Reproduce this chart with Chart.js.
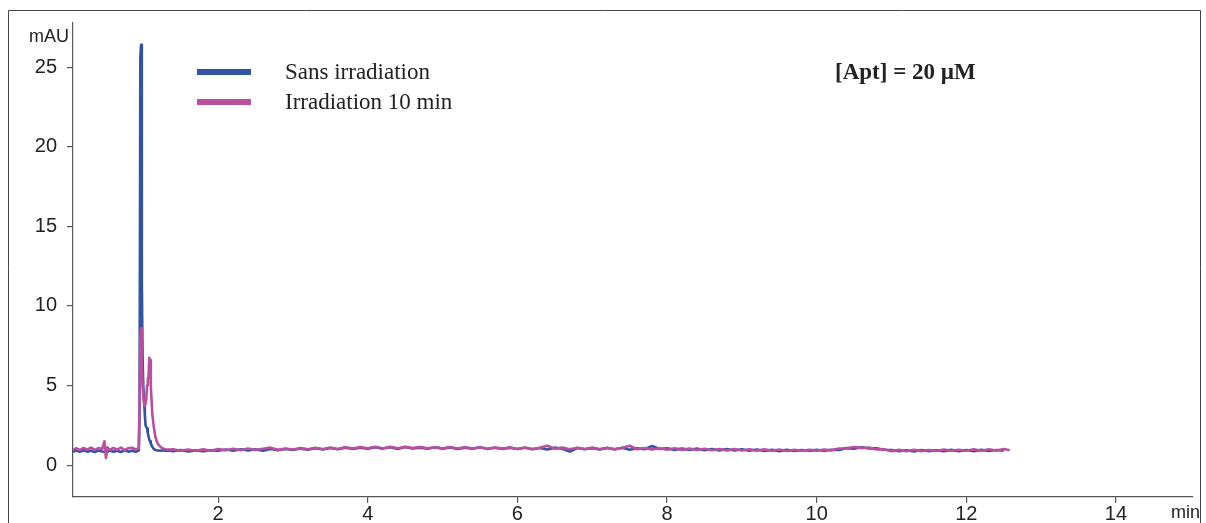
<!DOCTYPE html>
<html>
<head>
<meta charset="utf-8">
<script src="https://cdn.jsdelivr.net/npm/chart.js@4.4.0/dist/chart.umd.min.js"></script>
<style>
  html, body { margin: 0; padding: 0; background: #fff; }
</style>
</head>
<body>
<canvas id="chromato" width="1206" height="523"></canvas>
<script>
// retention times (min) - left baseline, peak zone, rest of the run
var timesLeft = [0.06, 0.1, 0.15, 0.2, 0.25, 0.3, 0.35, 0.4, 0.45, 0.48, 0.5, 0.52, 0.55, 0.6, 0.65, 0.7, 0.75, 0.8, 0.85, 0.9, 0.93];
var timesPeak = [0.94, 0.95, 0.96, 0.97, 0.98, 0.99, 1.0, 1.01, 1.02, 1.03, 1.04, 1.05, 1.06, 1.07, 1.08, 1.09, 1.1, 1.12, 1.14, 1.16, 1.18, 1.2, 1.23, 1.26, 1.3, 1.35];
var timesBase = [1.4, 1.5, 1.6, 1.7, 1.8, 1.9,
  2.0, 2.1, 2.2, 2.3, 2.4, 2.5, 2.6, 2.7, 2.8, 2.9,
  3.0, 3.1, 3.2, 3.3, 3.4, 3.5, 3.6, 3.7, 3.8, 3.9,
  4.0, 4.1, 4.2, 4.3, 4.4, 4.5, 4.6, 4.7, 4.8, 4.9,
  5.0, 5.1, 5.2, 5.3, 5.4, 5.5, 5.6, 5.7, 5.8, 5.9,
  6.0, 6.1, 6.2, 6.3, 6.4, 6.5, 6.6, 6.7, 6.8, 6.9,
  7.0, 7.1, 7.2, 7.3, 7.4, 7.5, 7.6, 7.7, 7.8, 7.9,
  8.0, 8.1, 8.2, 8.3, 8.4, 8.5, 8.6, 8.7, 8.8, 8.9,
  9.0, 9.1, 9.2, 9.3, 9.4, 9.5, 9.6, 9.7, 9.8, 9.9,
  10.0, 10.1, 10.2, 10.3, 10.4, 10.5, 10.6, 10.7, 10.8, 10.9,
  11.0, 11.1, 11.2, 11.3, 11.4, 11.5, 11.6, 11.7, 11.8, 11.9,
  12.0, 12.1, 12.2, 12.3, 12.4, 12.5, 12.58];

// absorbance (mAU) - "Sans irradiation"
var sansLeft = [0.83, 0.92, 0.84, 0.93, 0.85, 0.9, 0.82, 0.92, 0.86, 0.84, 0.9, 0.83, 0.92, 0.84, 0.91, 0.83, 0.93, 0.85, 0.91, 0.84, 0.92];
var sansPeak = [0.95, 4.0, 25.6, 26.4, 11.5, 6.8, 4.9, 4.0, 3.2, 2.5, 2.4, 2.3, 2.0, 1.8, 1.6, 1.5, 1.35, 1.15, 1.02, 0.96, 0.93, 0.92, 0.9, 0.93, 0.91, 0.9];
var sansBase = [0.88, 0.95, 0.86, 0.93, 0.87, 0.94,
  0.9, 0.98, 0.91, 1.0, 0.93, 0.99, 0.9, 1.01, 0.94, 1.02,
  0.95, 1.04, 0.97, 1.06, 0.99, 1.08, 1.0, 1.1, 1.02, 1.09,
  1.03, 1.12, 1.04, 1.13, 1.02, 1.14, 1.05, 1.1, 1.03, 1.12,
  1.04, 1.11, 1.02, 1.1, 1.03, 1.12, 1.01, 1.09, 1.02, 1.1,
  1.01, 1.09, 1.0, 1.08, 0.98, 1.1, 1.03, 0.85, 1.08, 1.0,
  1.07, 0.99, 1.08, 1.0, 1.09, 0.97, 1.06, 1.0, 1.2, 1.01,
  1.06, 0.96, 1.05, 0.95, 1.04, 0.94, 1.02, 0.93, 1.01, 0.92,
  0.99, 0.9, 0.98, 0.89, 0.97, 0.88, 0.96, 0.89, 0.95, 0.9,
  0.96, 0.9, 0.97, 0.95, 1.07, 1.04, 1.12, 1.05, 1.06, 0.97,
  0.95, 0.87, 0.94, 0.86, 0.95, 0.87, 0.94, 0.88, 0.96, 0.87,
  0.95, 0.88, 0.96, 0.89, 0.95, 0.9, null];

// absorbance (mAU) - "Irradiation 10 min"
var irrLeft = [0.96, 1.06, 0.95, 1.08, 0.97, 1.1, 0.96, 1.07, 1.02, 1.5, 0.45, 1.12, 0.96, 1.08, 0.97, 1.1, 0.95, 1.07, 1.09, 0.98, 1.06];
var irrPeak = [1.1, 3.5, 8.0, 8.6, 6.0, 5.0, 4.4, 3.9, 3.7, 3.9, 4.2, 5.0, 5.4, 5.6, 6.75, 6.6, 5.0, 3.2, 2.4, 1.8, 1.5, 1.3, 1.15, 1.05, 1.0, 0.98];
var irrBase = [0.99, 0.9, 0.98, 0.91, 0.99, 0.9,
  1.01, 0.93, 1.03, 0.94, 1.04, 0.95, 1.03, 1.1, 0.96, 1.05,
  0.98, 1.07, 0.99, 1.09, 1.0, 1.11, 1.02, 1.13, 1.04, 1.14,
  1.06, 1.15, 1.05, 1.16, 1.06, 1.15, 1.07, 1.14, 1.06, 1.13,
  1.05, 1.14, 1.04, 1.13, 1.05, 1.12, 1.03, 1.11, 1.04, 1.1,
  1.02, 1.11, 1.01, 1.09, 1.22, 1.03, 1.1, 1.0, 1.09, 1.01,
  1.1, 1.0, 1.09, 0.99, 1.08, 1.22, 1.0, 1.07, 0.99, 1.06,
  0.97, 1.06, 0.96, 1.04, 0.95, 1.03, 0.94, 1.02, 0.93, 1.01,
  0.92, 1.0, 0.91, 0.99, 0.9, 0.98, 0.89, 0.97, 0.9, 0.96,
  0.91, 0.98, 0.93, 1.05, 1.06, 1.14, 1.07, 1.11, 0.99, 1.0,
  0.88, 0.96, 0.87, 0.97, 0.88, 0.95, 0.89, 0.98, 0.9, 0.97,
  0.9, 0.99, 0.91, 1.0, 0.92, 1.01, 0.93];

var seriesNames = ['Sans irradiation', 'Irradiation 10 min'];
var xTicks = [2, 4, 6, 8, 10, 12, 14];
var yTicks = [0, 5, 10, 15, 20, 25];

var blue = '#3053a4';
var pink = '#bb4f9f';

var times = timesLeft.concat(timesPeak, timesBase);
var sansVals = sansLeft.concat(sansPeak, sansBase);
var irrVals = irrLeft.concat(irrPeak, irrBase);

function toPoints(vals) {
  var pts = [];
  for (var i = 0; i < times.length; i++) {
    pts.push({ x: times[i], y: vals[i] });
  }
  return pts;
}

// frame, units, legend and concentration label
var decorations = {
  id: 'decorations',
  beforeDraw: function(chart) {
    var ctx = chart.ctx;
    ctx.save();
    ctx.fillStyle = '#fff';
    ctx.fillRect(0, 0, chart.width, chart.height);
    ctx.strokeStyle = '#444';
    ctx.lineWidth = 1;
    ctx.beginPath();
    ctx.moveTo(8.5, 530);
    ctx.lineTo(8.5, 10.5);
    ctx.lineTo(1200.5, 10.5);
    ctx.lineTo(1200.5, 530);
    ctx.stroke();
    ctx.restore();
  },
  afterDatasetsDraw: function(chart) {
    var ctx = chart.ctx;
    ctx.save();
    ctx.fillStyle = '#222';
    ctx.font = '18px "Liberation Sans", Arial, sans-serif';
    ctx.textBaseline = 'middle';
    ctx.textAlign = 'right';
    ctx.fillText('mAU', 69, 37);
    ctx.fillText('min', 1200, 513);

    // legend
    var colors = [blue, pink];
    var rows = [72, 102];
    ctx.textAlign = 'left';
    ctx.font = '23px "Liberation Serif", "Times New Roman", serif';
    for (var i = 0; i < seriesNames.length; i++) {
      ctx.fillStyle = colors[i];
      ctx.fillRect(197, rows[i] - 3, 54, 6);
      ctx.fillStyle = '#222';
      ctx.fillText(seriesNames[i], 285, rows[i] + 1);
    }

    ctx.font = 'bold 23px "Liberation Serif", "Times New Roman", serif';
    ctx.fillText('[Apt] = 20 \u00b5M', 835, 73);
    ctx.restore();
  }
};

var ctx = document.getElementById('chromato');
var chromato = new Chart(ctx, {
  type: 'line',
  data: {
    datasets: [{
      label: seriesNames[0],
      data: toPoints(sansVals),
      borderColor: blue,
      borderWidth: 2.6,
      pointRadius: 0,
      tension: 0,
      borderJoinStyle: 'round',
      order: 2
    }, {
      label: seriesNames[1],
      data: toPoints(irrVals),
      borderColor: pink,
      borderWidth: 2.6,
      pointRadius: 0,
      tension: 0,
      borderJoinStyle: 'round',
      order: 1
    }]
  },
  options: {
    responsive: false,
    animation: false,
    devicePixelRatio: 1,
    layout: { padding: { left: 0, right: 13, top: 23, bottom: 0 } },
    plugins: {
      legend: { display: false },
      tooltip: { enabled: false }
    },
    scales: {
      x: {
        type: 'linear',
        min: 0.06,
        max: 15.03,
        afterBuildTicks: function(scale) {
          scale.ticks = xTicks.map(function(v) { return { value: v }; });
        },
        afterFit: function(scale) { scale.height = 26; },
        grid: { drawOnChartArea: false, drawTicks: true, tickLength: 6, color: '#555', lineWidth: 1.2 },
        border: { display: true, color: '#555', width: 1.2 },
        ticks: {
          padding: 1,
          color: '#222',
          maxRotation: 0,
          font: { family: '"Liberation Sans", Arial, sans-serif', size: 20, lineHeight: 1 }
        }
      },
      y: {
        min: -2,
        max: 27.77,
        afterBuildTicks: function(scale) {
          scale.ticks = yTicks.map(function(v) { return { value: v }; });
        },
        afterFit: function(scale) { scale.width = 73; },
        grid: { drawOnChartArea: false, drawTicks: true, tickLength: 6, color: '#555', lineWidth: 1.2 },
        border: { display: true, color: '#555', width: 1.2 },
        ticks: {
          padding: 10,
          color: '#222',
          font: { family: '"Liberation Sans", Arial, sans-serif', size: 20 }
        }
      }
    }
  },
  plugins: [decorations]
});
</script>
</body>
</html>
